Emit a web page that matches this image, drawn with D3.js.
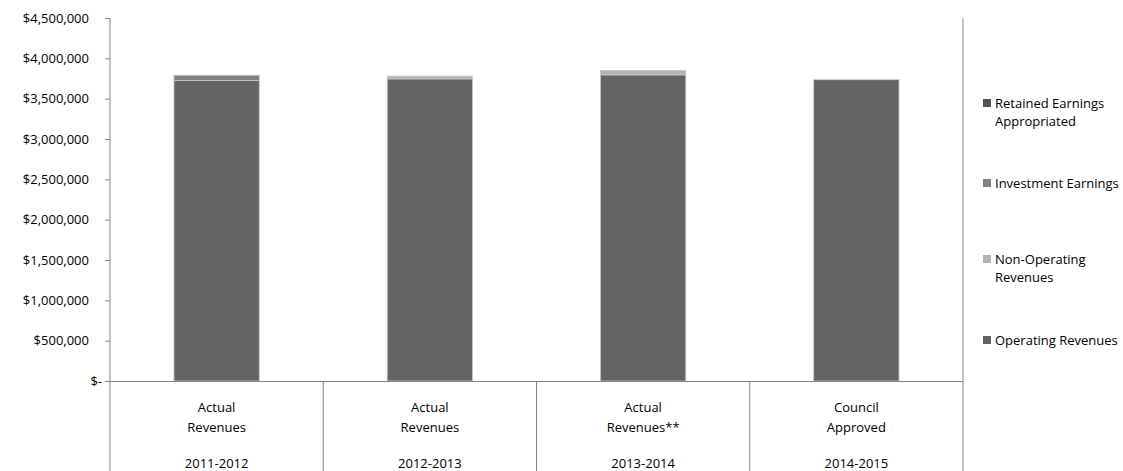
<!DOCTYPE html>
<html>
<head>
<meta charset="utf-8">
<script src="https://cdn.jsdelivr.net/npm/d3@7"></script>
<style>
  html, body { margin: 0; padding: 0; background: #fff; }
  svg { display: block; font-family: "Open Sans", "Noto Sans", sans-serif; }
</style>
</head>
<body>
<svg id="chart" width="1123" height="471"></svg>
<script>
// ---- data ----
const categoryLine1 = ["Actual", "Actual", "Actual", "Council"];
const categoryLine2 = ["Revenues", "Revenues", "Revenues**", "Approved"];
const fiscalYears = ["2011-2012", "2012-2013", "2013-2014", "2014-2015"];
const operatingRevenues = [3725000, 3745000, 3795000, 3735000];
const nonOperatingRevenues = [0, 35000, 55000, 0];
const investmentEarnings = [65000, 0, 0, 0];
const retainedEarnings = [0, 0, 0, 0];
const seriesNames = ["Operating Revenues", "Non-Operating Revenues", "Investment Earnings", "Retained Earnings Appropriated"];
const legendLines = [["Retained Earnings", "Appropriated"], ["Investment Earnings"], ["Non-Operating", "Revenues"], ["Operating Revenues"]];
const yTicks = [0, 500000, 1000000, 1500000, 2000000, 2500000, 3000000, 3500000, 4000000, 4500000];

(function () {
const colors = {
  "Operating Revenues": "#646464",
  "Non-Operating Revenues": "#b4b4b4",
  "Investment Earnings": "#828282",
  "Retained Earnings Appropriated": "#555555"
};

const rows = fiscalYears.map((fy, i) => ({
  fy,
  "Operating Revenues": operatingRevenues[i],
  "Non-Operating Revenues": nonOperatingRevenues[i],
  "Investment Earnings": investmentEarnings[i],
  "Retained Earnings Appropriated": retainedEarnings[i]
}));

const svg = d3.select("#chart");
const pLeft = 110, pRight = 963, pTop = 18, pBottom = 381, chartBottom = 471;
const fs = 13;

const x = d3.scaleBand().domain(fiscalYears).range([pLeft, pRight]).paddingInner(0).paddingOuter(0);
const y = d3.scaleLinear().domain([0, 4500000]).range([pBottom, pTop]);
const barW = x.bandwidth() * 0.4;

const stacked = d3.stack().keys(seriesNames)(rows);

const g = svg.append("g");
stacked.forEach(s => {
  g.selectAll(null).data(s.filter(d => d[1] - d[0] > 0)).enter().append("rect")
    .attr("x", d => x(d.data.fy) + (x.bandwidth() - barW) / 2)
    .attr("width", barW)
    .attr("y", d => y(d[1]))
    .attr("height", d => y(d[0]) - y(d[1]))
    .attr("fill", colors[s.key])
    .attr("stroke", "#c8c8c8")
    .attr("stroke-width", 0.8);
});

const axisColor = "#868686";

// y axis
const yAxis = d3.axisLeft(y).tickValues(yTicks).tickSize(5)
  .tickFormat(v => v === 0 ? "$-" : "$" + d3.format(",")(v));
const ya = svg.append("g").attr("transform", `translate(${pLeft},0)`).call(yAxis);
ya.select(".domain").remove();
ya.selectAll(".tick line").attr("stroke", axisColor);
ya.selectAll(".tick text").attr("font-size", fs).attr("fill", "#000").attr("x", -21)
  .attr("font-family", "'Open Sans', 'Noto Sans', sans-serif");
ya.selectAll(".tick").filter(d => d === 0).select("text").attr("x", -8);

// frame lines
svg.append("line").attr("x1", pLeft).attr("x2", pLeft).attr("y1", pTop).attr("y2", chartBottom).attr("stroke", axisColor);
svg.append("line").attr("x1", pRight).attr("x2", pRight).attr("y1", pTop).attr("y2", chartBottom).attr("stroke", axisColor);
svg.append("line").attr("x1", pLeft - 5).attr("x2", pRight).attr("y1", pBottom + 0.5).attr("y2", pBottom + 0.5).attr("stroke", axisColor);

// category dividers
fiscalYears.slice(1).forEach(fy => {
  svg.append("line").attr("x1", x(fy)).attr("x2", x(fy)).attr("y1", pBottom).attr("y2", chartBottom).attr("stroke", axisColor);
});

// category labels
fiscalYears.forEach((fy, i) => {
  const cx = x(fy) + x.bandwidth() / 2;
  const t = svg.append("g").attr("font-size", fs).attr("text-anchor", "middle").attr("fill", "#000");
  t.append("text").attr("x", cx).attr("y", 412).text(categoryLine1[i]);
  t.append("text").attr("x", cx).attr("y", 432).text(categoryLine2[i]);
  t.append("text").attr("x", cx).attr("y", 468).text(fy);
});

// legend
const legendY = [103, 183, 259, 340];
const legendSeries = seriesNames.slice().reverse();
legendSeries.forEach((name, i) => {
  const lg = svg.append("g");
  lg.append("rect").attr("x", 983).attr("y", legendY[i] - 4).attr("width", 8).attr("height", 8).attr("fill", colors[name]);
  legendLines[i].forEach((ln, j) => {
    lg.append("text").attr("x", 995).attr("y", legendY[i] + 4.5 + j * 18).attr("font-size", fs).attr("fill", "#000").text(ln);
  });
});
})();
</script>
</body>
</html>
